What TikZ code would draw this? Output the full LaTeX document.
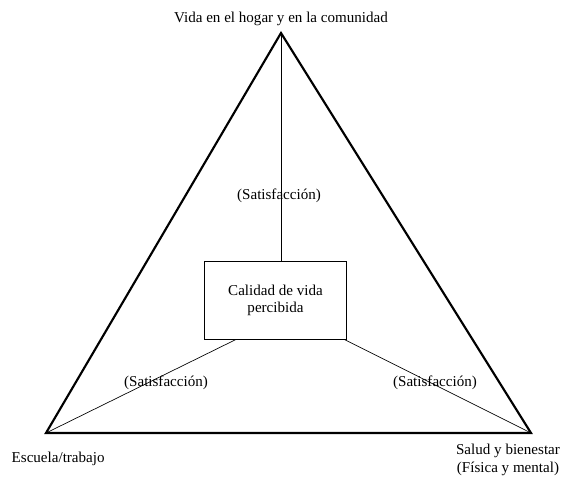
\documentclass[tikz,border=0pt]{standalone}
\usepackage{fontspec}
\setmainfont{Liberation Serif}
\usepackage{tikz}
\usetikzlibrary{arrows}
\def\sat{(Satisfacci\'on)}

\begin{document}
\begin{tikzpicture}[x=0.75pt,y=-0.75pt,font=\fontsize{11.3}{13}\selectfont]
\useasboundingbox (0,0) rectangle (569,483);
\coordinate (top) at (281,33);
\coordinate (left) at (46,433);
\coordinate (right) at (531,433);
\draw[] (275.5,300.5) node[draw,line width=0.8pt,minimum width=107pt,minimum height=58pt,align=center] (calidad) {Calidad de vida\\percibida};
\draw[line width=1.6pt,line join=miter] (top) -- (left) -- (right) -- cycle;
\draw[line width=0.5pt] (top) -- (calidad.north -| top);
\draw[line width=0.5pt] (left) -- ([xshift=-30pt]calidad.south);
\draw[line width=0.5pt] (right) -- ([xshift=52pt]calidad.south);
\draw[] (281,19) node[] (hogar) {Vida en el hogar y en la comunidad};
\draw[] (279,196) node[] (sattop) {\sat};
\draw[] (166,383) node[] (satleft) {\sat};
\draw[] (435,383) node[] (satright) {\sat};
\draw[] (7,459) node[anchor=west] (escuela) {Escuela/trabajo};
\draw[] (508,460) node[align=center] (salud) {Salud y bienestar\\(F\'isica y mental)};
\end{tikzpicture}
\end{document}
